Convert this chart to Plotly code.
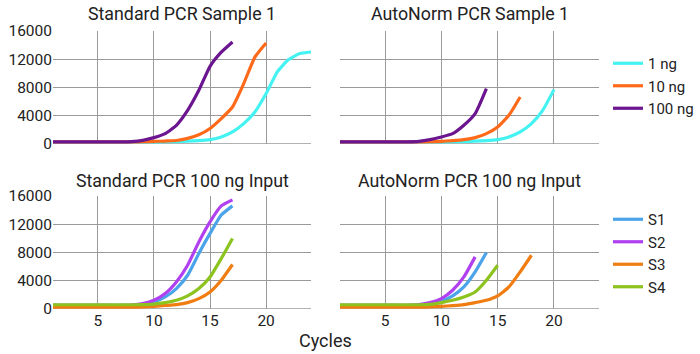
import plotly.graph_objects as go

cycles = list(range(1, 25))

# Top row: Standard PCR Sample 1
std_1ng = [300, 300, 300, 300, 300, 300, 300, 300, 300, 300, 320, 350, 400, 480, 620, 990, 1700, 2890, 4530, 7140, 10200, 11950, 12800, 13030]
std_10ng = [300, 300, 300, 300, 300, 300, 300, 300, 320, 360, 420, 500, 800, 1300, 2200, 3600, 5240, 8550, 12300, 14300]
std_100ng = [300, 300, 300, 300, 300, 300, 310, 350, 520, 900, 1470, 2650, 4760, 7600, 11000, 13000, 14450]

# Top row: AutoNorm PCR Sample 1
an_1ng = [300, 300, 300, 300, 300, 300, 300, 300, 300, 300, 320, 350, 400, 480, 620, 990, 1700, 2890, 4770, 7700]
an_10ng = [300, 300, 300, 300, 300, 300, 300, 300, 320, 380, 480, 620, 900, 1470, 2400, 4060, 6650]
an_100ng = [300, 300, 300, 300, 300, 300, 310, 380, 620, 1000, 1470, 2650, 4300, 7840]

# Bottom row: Standard PCR 100 ng Input
std_s1 = [500, 500, 500, 500, 500, 500, 500, 520, 650, 990, 1700, 2890, 4780, 7850, 10700, 13300, 14600]
std_s2 = [500, 500, 500, 500, 500, 500, 500, 560, 760, 1230, 2180, 3830, 6200, 9500, 12350, 14600, 15450]
std_s3 = [250, 250, 250, 250, 250, 250, 250, 260, 300, 380, 500, 620, 900, 1470, 2410, 4070, 6300]
std_s4 = [600, 600, 600, 600, 600, 600, 600, 600, 620, 700, 900, 1230, 1850, 2890, 4540, 7150, 9990]

# Bottom row: AutoNorm PCR 100 ng Input
an_s1 = [500, 500, 500, 500, 500, 500, 500, 560, 760, 1090, 1850, 3120, 5250, 8000]
an_s2 = [500, 500, 500, 500, 500, 500, 520, 620, 900, 1470, 2650, 4540, 7380]
an_s3 = [250, 250, 250, 250, 250, 250, 250, 260, 300, 380, 480, 620, 900, 1230, 1850, 3120, 5250, 7610]
an_s4 = [600, 600, 600, 600, 600, 600, 600, 600, 650, 900, 1230, 1700, 2410, 4070, 6200]

titles = ["Standard PCR Sample 1", "AutoNorm PCR Sample 1",
          "Standard PCR 100 ng Input", "AutoNorm PCR 100 ng Input"]
y_ticks = [0, 4000, 8000, 12000, 16000]
y_labels = ["0", "4000", "8000", "12000", "16000"]
x_ticks = [5, 10, 15, 20]
x_labels = ["5", "10", "15", "20"]

top_names = ["1 ng", "10 ng", "100 ng"]
top_colors = ["#44F2F2", "#FF6A1A", "#6B1690"]
bot_names = ["S1", "S2", "S3", "S4"]
bot_colors = ["#4BA3EA", "#B040F0", "#F07D12", "#8CC31F"]

FONT = "Roboto"
TXT = "#222222"
GRID = "#9a9a9a"

fig = go.Figure()

panels = [
    ("x", "y", [std_1ng, std_10ng, std_100ng], top_names, top_colors, "legend", True),
    ("x2", "y2", [an_1ng, an_10ng, an_100ng], top_names, top_colors, "legend", False),
    ("x3", "y3", [std_s1, std_s2, std_s3, std_s4], bot_names, bot_colors, "legend2", True),
    ("x4", "y4", [an_s1, an_s2, an_s3, an_s4], bot_names, bot_colors, "legend2", False),
]

for xa, ya, series, names, colors, leg, show in panels:
    for vals, nm, col in zip(series, names, colors):
        fig.add_trace(go.Scatter(
            x=cycles[:len(vals)], y=vals, mode="lines", name=nm,
            line=dict(color=col, width=3.2, shape="spline", smoothing=0.5),
            xaxis=xa, yaxis=ya, legend=leg, showlegend=show,
        ))

W, H = 700, 354
xdom = [[53 / W, 311 / W], [340 / W, 599 / W]]
ydom = [[1 - 144 / H, 1 - 31 / H], [1 - 309 / H, 1 - 196 / H]]

axis_common = dict(showgrid=True, gridcolor=GRID, gridwidth=1, zeroline=False,
                   showline=False, ticks="", tickfont=dict(family=FONT, size=15.5, color=TXT))

layout = dict(
    width=W, height=H, margin=dict(l=0, r=0, t=0, b=0, autoexpand=False),
    paper_bgcolor="white", plot_bgcolor="white",
    font=dict(family=FONT, color=TXT),
)
idx = 0
for r in range(2):
    for c in range(2):
        idx += 1
        sx = "" if idx == 1 else str(idx)
        layout["xaxis" + sx] = dict(axis_common, domain=xdom[c], range=[1, 24],
                                    tickvals=x_ticks, ticktext=x_labels,
                                    showticklabels=(r == 1), anchor="y" + sx)
        layout["yaxis" + sx] = dict(axis_common, domain=ydom[r], range=[0, 16000],
                                    tickvals=y_ticks, ticktext=y_labels,
                                    showticklabels=(c == 0), anchor="x" + sx)
fig.update_layout(**layout)

# zero baseline
for sx in ["", "2", "3", "4"]:
    fig.add_shape(type="line", xref="x" + sx + " domain", yref="y" + sx,
                  x0=0, x1=1, y0=0, y1=0, line=dict(color="#666666", width=1.2), layer="below")

ann = []
title_y = [14, 14, 180, 180]
for k, t in enumerate(titles):
    r, c = divmod(k, 2)
    ann.append(dict(text=t, xref="paper", yref="paper",
                    x=(xdom[c][0] + xdom[c][1]) / 2, y=1 - title_y[k] / H,
                    xanchor="center", yanchor="middle", showarrow=False,
                    font=dict(family=FONT, size=17.8, color=TXT)))
ann.append(dict(text="Cycles", xref="paper", yref="paper", x=325 / W, y=1 - 340 / H,
                xanchor="center", yanchor="middle", showarrow=False,
                font=dict(family=FONT, size=18, color=TXT)))
fig.update_layout(annotations=ann)

fig.update_layout(
    legend=dict(x=608 / W, y=1 - 47 / H, xanchor="left", yanchor="top",
                font=dict(family=FONT, size=15, color=TXT), bgcolor="rgba(0,0,0,0)",
                itemwidth=30, tracegroupgap=0),
    legend2=dict(x=608 / W, y=1 - 203 / H, xanchor="left", yanchor="top",
                 font=dict(family=FONT, size=15, color=TXT), bgcolor="rgba(0,0,0,0)",
                 itemwidth=30, tracegroupgap=0),
)

fig.write_html("out.html",
               post_script="document.body.style.margin='0';document.body.style.overflow='hidden';")
